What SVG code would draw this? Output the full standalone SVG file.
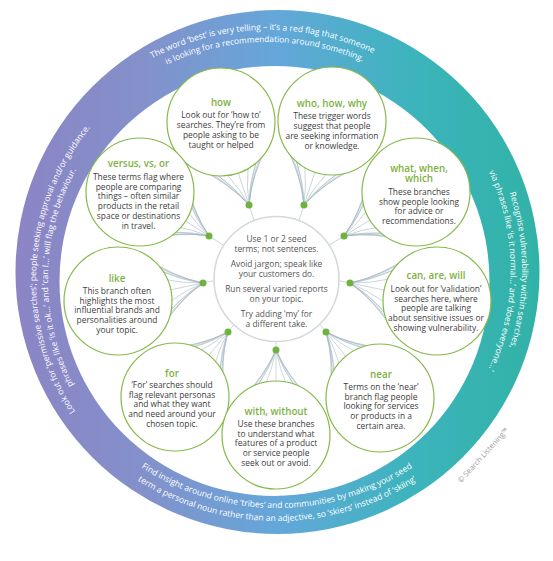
<svg xmlns="http://www.w3.org/2000/svg" width="553" height="561" viewBox="0 0 553 561">
<defs>
<style>
.band{font-family:"Open Sans","Liberation Sans",sans-serif;font-size:8.5px;fill:#ffffff;text-anchor:middle}
.node{fill:#ffffff;stroke:#86b94a;stroke-width:1.2}
.title{font-family:"Open Sans","Liberation Sans",sans-serif;font-size:9.8px;font-weight:600;fill:#7db23f;text-anchor:middle}
.body{font-family:"Open Sans","Liberation Sans",sans-serif;font-size:8.4px;fill:#3c3c3c;text-anchor:middle}
.ctext{font-family:"Open Sans","Liberation Sans",sans-serif;font-size:8.4px;fill:#555555;text-anchor:middle}
.fan path{fill:none;stroke:#a7bac4;stroke-width:0.55}
.dot{fill:#6fb33f}
.copy{font-family:"Open Sans","Liberation Sans",sans-serif;font-size:7.5px;fill:#9a9a9a;text-anchor:middle}
</style>
<linearGradient id="ringGrad" x1="15" y1="0" x2="540" y2="0" gradientUnits="userSpaceOnUse">
<stop offset="0" stop-color="#8c84c5"/>
<stop offset="0.25" stop-color="#8391cb"/>
<stop offset="0.5" stop-color="#64a7da"/>
<stop offset="0.75" stop-color="#3db4bd"/>
<stop offset="1" stop-color="#31b2a6"/>
</linearGradient>
<g id="fan" class="fan">
<path d="M0,0 L-18,0"/>
<path d="M0,0 Q17.5,0 35,0"/>
<path d="M0,0 Q18.14,3.38 36.28,11.25"/>
<path d="M0,0 Q18.14,-3.38 36.28,-11.25"/>
<path d="M0,0 Q20.03,6.58 40.06,21.92"/>
<path d="M0,0 Q20.03,-6.58 40.06,-21.92"/>
<path d="M0,0 Q23.07,9.44 46.14,31.47"/>
<path d="M0,0 Q23.07,-9.44 46.14,-31.47"/>
<path d="M0,0 Q27.11,11.82 54.22,39.4"/>
<path d="M0,0 Q27.11,-11.82 54.22,-39.4"/>
<path d="M0,0 Q31.94,13.6 63.87,45.32"/>
<path d="M0,0 Q31.94,-13.6 63.87,-45.32"/>
<path d="M0,0 Q37.3,14.67 74.6,48.91"/>
<path d="M0,0 Q37.3,-14.67 74.6,-48.91"/>
</g>
<path id="pTop1" d="M18,280 A250,250 0 0 1 518,280"/>
<path id="pTop2" d="M30,280 A238,238 0 0 1 506,280"/>
<path id="pLeft1" d="M277,521 A241,241 0 0 1 277,39"/>
<path id="pLeft2" d="M277,509 A229,229 0 0 1 277,51"/>
<path id="pRight1" d="M277,25 A245,245 0 0 1 277,515"/>
<path id="pRight2" d="M277,36.5 A233.5,233.5 0 0 1 277,503.5"/>
<path id="pBot1" d="M30,261 A247,247 0 0 0 524,261"/>
<path id="pBot2" d="M17,261 A260,260 0 0 0 537,261"/>
</defs>

<rect x="0" y="0" width="553" height="561" fill="#ffffff"/>

<g id="ring">
<circle cx="277.5" cy="272" r="262" fill="url(#ringGrad)"/>
<circle cx="274.5" cy="281" r="215" fill="#ffffff"/>
<text class="band" font-size="8"><textPath href="#pTop1" startOffset="49.25%">The word ‘best’ is very telling – it’s a red flag that someone</textPath></text>
<text class="band" style="font-size:8.3px"><textPath href="#pTop2" startOffset="49.5%">is looking for a recommendation around something.</textPath></text>
<text class="band"><textPath href="#pLeft1" startOffset="51.7%">Look out for ‘permissive searches’; people seeking approval and/or guidance.</textPath></text>
<text class="band"><textPath href="#pLeft2" startOffset="50.4%">phrases like ‘is it ok...’ and ‘can I...’ will flag the behaviour.</textPath></text>
<text class="band"><textPath href="#pRight1" startOffset="50%">Recognise vulnerability within searches,</textPath></text>
<text class="band"><textPath href="#pRight2" startOffset="50.1%">via phrases like ‘is it normal...’ and ‘does everyone...’</textPath></text>
<text class="band"><textPath href="#pBot1" startOffset="50%">Find insight around online ‘tribes’ and communities by making your seed</textPath></text>
<text class="band"><textPath href="#pBot2" startOffset="50%">term a personal noun rather than an adjective, so ‘skiers’ instead of ‘skiing’</textPath></text>
<text class="copy" x="485" y="457" transform="rotate(-47.5 485 457)">© Search Listening™</text>
</g>

<g id="connectors">
<use href="#fan" transform="translate(249,205) rotate(-108.6)"/>
<use href="#fan" transform="translate(304,205) rotate(-71.6)"/>
<use href="#fan" transform="translate(209,236) rotate(-147.5)"/>
<use href="#fan" transform="translate(344,236) rotate(-31.4)"/>
<use href="#fan" transform="translate(203,283) rotate(168)"/>
<use href="#fan" transform="translate(350,283) rotate(11.7)"/>
<use href="#fan" transform="translate(228,332) rotate(129.2)"/>
<use href="#fan" transform="translate(326,332) rotate(50.7)"/>
<use href="#fan" transform="translate(276,350) rotate(90)"/>
<circle class="dot" cx="249" cy="205" r="3.5"/>
<circle class="dot" cx="304" cy="205" r="3.5"/>
<circle class="dot" cx="209" cy="236" r="3.5"/>
<circle class="dot" cx="344" cy="236" r="3.5"/>
<circle class="dot" cx="203" cy="283" r="3.5"/>
<circle class="dot" cx="350" cy="283" r="3.5"/>
<circle class="dot" cx="228" cy="332" r="3.5"/>
<circle class="dot" cx="326" cy="332" r="3.5"/>
<circle class="dot" cx="276" cy="350" r="3.5"/>
</g>

<g id="center">
<circle cx="276.5" cy="279" r="62.5" fill="#ffffff" stroke="#d3d8db" stroke-width="1.5"/>
<text class="ctext" x="276.5" y="242">Use 1 or 2 seed</text>
<text class="ctext" x="276.5" y="252">terms; not sentences.</text>
<text class="ctext" x="276.5" y="267">Avoid jargon; speak like</text>
<text class="ctext" x="276.5" y="277">your customers do.</text>
<text class="ctext" x="276.5" y="292">Run several varied reports</text>
<text class="ctext" x="276.5" y="302">on your topic.</text>
<text class="ctext" x="276.5" y="317">Try adding ‘my’ for</text>
<text class="ctext" x="276.5" y="327">a different take.</text>
</g>

<g id="node-how">
<circle class="node" cx="221" cy="122" r="54"/>
<text class="title" x="221" y="105.5">how</text>
<text class="body" x="221" y="118">Look out for ‘how to’</text>
<text class="body" x="221" y="128">searches. They’re from</text>
<text class="body" x="221" y="138">people asking to be</text>
<text class="body" x="221" y="148">taught or helped</text>
</g>

<g id="node-who">
<circle class="node" cx="332" cy="121" r="54"/>
<text class="title" x="332" y="106.5">who, how, why</text>
<text class="body" x="332" y="119">These trigger words</text>
<text class="body" x="332" y="129">suggest that people</text>
<text class="body" x="332" y="139">are seeking information</text>
<text class="body" x="332" y="149">or knowledge.</text>
</g>

<g id="node-versus">
<circle class="node" cx="140" cy="192" r="54"/>
<text class="title" x="138.5" y="166.5">versus, vs, or</text>
<text class="body" x="138.5" y="180">These terms flag where</text>
<text class="body" x="138.5" y="189.7">people are comparing</text>
<text class="body" x="138.5" y="199.4">things – often similar</text>
<text class="body" x="138.5" y="209.1">products in the retail</text>
<text class="body" x="138.5" y="218.8">space or destinations</text>
<text class="body" x="138.5" y="228.5">in travel.</text>
</g>

<g id="node-what">
<circle class="node" cx="416" cy="192" r="54"/>
<text class="title" x="419" y="171.5">what, when,</text>
<text class="title" x="419" y="181.5">which</text>
<text class="body" x="419" y="195">These branches</text>
<text class="body" x="419" y="204.7">show people looking</text>
<text class="body" x="419" y="214.4">for advice or</text>
<text class="body" x="419" y="224.1">recommendations.</text>
</g>

<g id="node-like">
<circle class="node" cx="118" cy="301" r="54"/>
<text class="title" x="117" y="281.5">like</text>
<text class="body" x="117" y="294">This branch often</text>
<text class="body" x="117" y="303.7">highlights the most</text>
<text class="body" x="117" y="313.4">influential brands and</text>
<text class="body" x="117" y="323.1">personalities around</text>
<text class="body" x="117" y="332.8">your topic.</text>
</g>

<g id="node-can">
<circle class="node" cx="437" cy="301" r="54"/>
<text class="title" x="436" y="278.5">can, are, will</text>
<text class="body" x="436" y="292">Look out for ‘validation’</text>
<text class="body" x="436" y="301.7">searches here, where</text>
<text class="body" x="436" y="311.4">people are talking</text>
<text class="body" x="436" y="321.1">about sensitive issues or</text>
<text class="body" x="436" y="330.8">showing vulnerability.</text>
</g>

<g id="node-for">
<circle class="node" cx="175" cy="397" r="54"/>
<text class="title" x="172" y="376.5">for</text>
<text class="body" x="172" y="388">‘For’ searches should</text>
<text class="body" x="172" y="397.7">flag relevant personas</text>
<text class="body" x="172" y="407.4">and what they want</text>
<text class="body" x="172" y="417.1">and need around your</text>
<text class="body" x="172" y="426.8">chosen topic.</text>
</g>

<g id="node-near">
<circle class="node" cx="380" cy="398" r="54"/>
<text class="title" x="381" y="377.5">near</text>
<text class="body" x="381" y="390">Terms on the ‘near’</text>
<text class="body" x="381" y="399.7">branch flag people</text>
<text class="body" x="381" y="409.4">looking for services</text>
<text class="body" x="381" y="419.1">or products in a</text>
<text class="body" x="381" y="428.8">certain area.</text>
</g>

<g id="node-with">
<circle class="node" cx="276" cy="435" r="54"/>
<text class="title" x="276" y="414.5">with, without</text>
<text class="body" x="276" y="427">Use these branches</text>
<text class="body" x="276" y="436.7">to understand what</text>
<text class="body" x="276" y="446.4">features of a product</text>
<text class="body" x="276" y="456.1">or service people</text>
<text class="body" x="276" y="465.8">seek out or avoid.</text>
</g>
</svg>
